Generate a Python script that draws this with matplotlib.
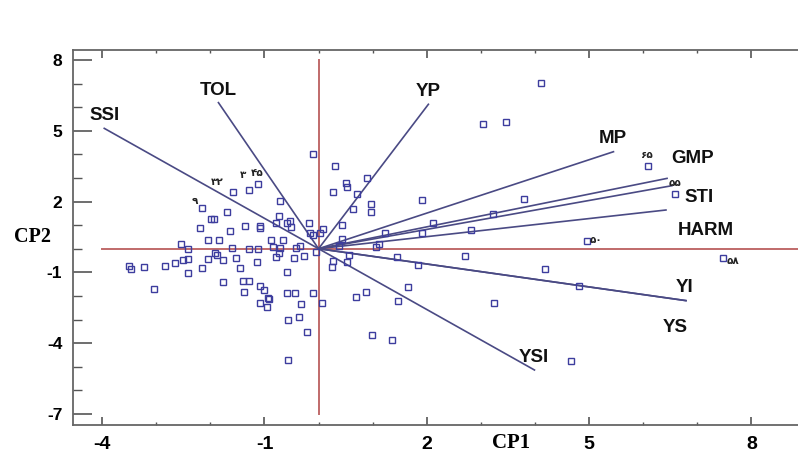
import numpy as np
import matplotlib
matplotlib.use("Agg")
import matplotlib.pyplot as plt
from matplotlib.ticker import MultipleLocator

plt.rcParams["axes.unicode_minus"] = False

# genotype scores (CP1, CP2)
pc1 = [-2.16, -1.99, -1.93, -2.20, -2.05, -1.84, -2.55, -2.42, -3.50, -3.46,
       -3.22, -2.83, -2.65, -2.50, -2.42, -2.05, -1.91, -1.87, -2.16, -2.42,
       -3.04, -1.59, -1.28, -1.12, -0.72, -1.70, -0.73, -0.53, -0.58, -0.51,
       -0.17, -0.79, -1.36, -1.09, -1.09, -1.64, -0.88, -0.65, -0.16, -0.11,
       -1.60, -1.28, -1.11, -0.85, -0.72, -0.74, -0.42, -0.35, -0.05, -1.77,
       -1.52, -1.14, -0.79, -0.45, -0.27, -1.46, -0.59, -1.76, -1.39, -1.28,
       -1.37, -1.09, -1.01, -0.94, -0.92, -1.09, -0.95, -0.59, -0.43, -0.10,
       0.06, -0.33, -0.57, -0.36, -0.22, -0.56, -0.10, 0.30, 0.51, 0.52,
       0.27, 0.89, 0.71, 0.96, 0.96, 0.64, 1.92, 0.43, 0.08, 0.03,
       0.44, 1.23, 1.92, 2.12, 1.12, 1.06, 0.37, 0.26, 0.25, 0.56,
       0.52, 1.45, 1.83, 0.69, 0.88, 1.65, 1.46, 0.98, 1.35, 4.11,
       3.04, 3.47, 3.80, 3.23, 2.82, 2.70, 4.19, 4.82, 3.25, 4.67,
       6.08, 6.59, 4.96, 7.47]
pc2 = [1.74, 1.26, 1.26, 0.89, 0.38, 0.37, 0.20, -0.01, -0.73, -0.87,
       -0.78, -0.73, -0.62, -0.49, -0.44, -0.44, -0.18, -0.26, -0.83, -1.04,
       -1.69, 2.42, 2.50, 2.73, 2.03, 1.56, 1.39, 1.17, 1.07, 0.91,
       1.10, 1.08, 0.96, 0.96, 0.86, 0.76, 0.37, 0.37, 0.68, 0.58,
       0.02, -0.01, -0.01, 0.08, 0.02, -0.17, 0.02, 0.11, -0.12, -0.48,
       -0.39, -0.58, -0.36, -0.39, -0.31, -0.83, -0.97, -1.43, -1.36, -1.36,
       -1.82, -1.59, -1.77, -2.08, -2.14, -2.29, -2.46, -1.86, -1.89, -1.86,
       -2.29, -2.33, -3.02, -2.89, -3.52, -4.72, 4.00, 3.50, 2.77, 2.60,
       2.42, 2.98, 2.31, 1.88, 1.57, 1.69, 2.06, 1.00, 0.83, 0.68,
       0.40, 0.68, 0.68, 1.10, 0.19, 0.09, 0.11, -0.51, -0.79, -0.27,
       -0.58, -0.36, -0.69, -2.03, -1.82, -1.64, -2.20, -3.66, -3.87, 7.03,
       5.28, 5.38, 2.12, 1.47, 0.79, -0.31, -0.87, -1.59, -2.29, -4.76,
       3.50, 2.31, 0.33, -0.39]

# genotype numbers written next to some points
gen_labels = ["۹", "۳۲", "۳", "۴۵", "۶۵", "۵۵", "۵۰", "۵۸"]
gen_x = [-2.28, -1.88, -1.40, -1.14, 6.06, 6.59, 5.13, 7.66]
gen_y = [2.02, 2.83, 3.12, 3.21, 3.97, 2.78, 0.37, -0.51]

# index vectors (YS lies on top of YI)
traits = ["SSI", "TOL", "YP", "MP", "GMP", "STI", "HARM", "YI", "YS", "YSI"]
vec_x = [-3.96, -1.85, 2.03, 5.45, 6.44, 6.53, 6.42, 6.79, 6.79, 3.99]
vec_y = [5.10, 6.19, 6.12, 4.11, 2.98, 2.67, 1.64, -2.20, -2.20, -5.14]
lab_x = [-3.96, -1.85, 2.02, 5.43, 6.91, 7.04, 7.15, 6.77, 6.60, 3.97]
lab_y = [5.64, 6.72, 6.67, 4.68, 3.84, 2.17, 0.79, -1.66, -3.33, -4.61]

fig = plt.figure(figsize=(7.98, 4.74), dpi=100)
ax = fig.add_axes([0.092, 0.1034, 0.908, 0.7911])

# reference cross
ax.plot([0, 0], [-7, 8], color="#c06a6a", lw=1.4, zorder=1)
ax.plot([-4, 9], [0, 0], color="#c06a6a", lw=1.4, zorder=1)

# vectors
for i in range(len(traits)):
    ax.plot([0, vec_x[i]], [0, vec_y[i]], color="#4a4a84", lw=1.2, zorder=2)
    ax.text(lab_x[i], lab_y[i], traits[i], fontsize=13.5, fontweight="bold",
            family="Liberation Sans", ha="center", va="center", color="#111111")

ax.plot(pc1, pc2, ls="none", marker="s", ms=4.0, mfc="none", mec="#3d3d9e",
        mew=1.0, zorder=3)

for i in range(len(gen_labels)):
    ax.text(gen_x[i], gen_y[i], gen_labels[i], fontsize=7.5, fontweight="bold",
            family=["DejaVu Sans"], ha="center", va="center", color="#222222")

ax.set_xlim(-4.53, 8.86)
ax.set_ylim(-7.47, 8.42)
ax.set_xticks([-4, -1, 2, 5, 8])
ax.xaxis.set_minor_locator(MultipleLocator(1))
ax.set_yticks([-7, -4, -1, 2, 5, 8])
ax.yaxis.set_minor_locator(MultipleLocator(1))

ax.tick_params(axis="x", which="major", direction="in", length=5.5, width=1.2,
               top=True, color="#555555", pad=8)
ax.tick_params(axis="x", which="minor", direction="in", length=2.5, width=1.0,
               top=True, color="#555555")
ax.tick_params(axis="y", which="major", direction="in", length=13.5, width=1.2,
               color="#555555", pad=8)
ax.tick_params(axis="y", which="minor", direction="in", length=6.5, width=1.0,
               color="#555555")
for lab in ax.get_xticklabels():
    lab.set_fontsize(14)
    lab.set_fontweight("bold")
    lab.set_family("Liberation Sans")
for lab in ax.get_yticklabels():
    lab.set_fontsize(12.5)
    lab.set_fontweight("bold")
    lab.set_family("Liberation Sans")

for side in ["left", "bottom", "top"]:
    ax.spines[side].set_color("#666666")
    ax.spines[side].set_linewidth(1.3)
ax.spines["right"].set_visible(False)

fig.text(0.041, 0.5, "CP2", fontsize=14.5, fontweight="bold",
         family="Liberation Serif", ha="center", va="center")
fig.text(0.641, 0.065, "CP1", fontsize=15, fontweight="bold",
         family="Liberation Serif", ha="center", va="center")

fig.savefig("out.png", dpi=100, facecolor="white")
